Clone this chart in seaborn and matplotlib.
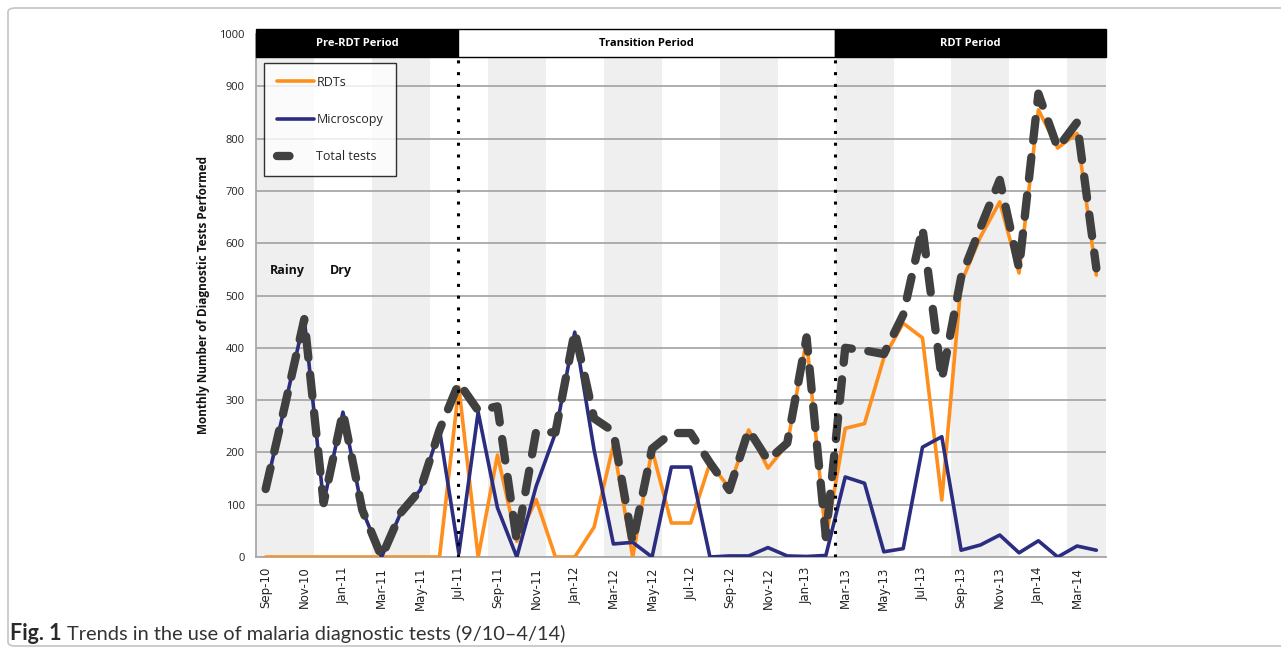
import numpy as np
import pandas as pd
import matplotlib
matplotlib.use("Agg")
import matplotlib.pyplot as plt
import seaborn as sns
from matplotlib.lines import Line2D
from matplotlib.patches import Rectangle, FancyBboxPatch

# tick labels (every second month, Sep-10 .. Mar-14)
tick_labels = ["Sep-10", "Nov-10", "Jan-11", "Mar-11", "May-11", "Jul-11",
               "Sep-11", "Nov-11", "Jan-12", "Mar-12", "May-12", "Jul-12",
               "Sep-12", "Nov-12", "Jan-13", "Mar-13", "May-13", "Jul-13",
               "Sep-13", "Nov-13", "Jan-14", "Mar-14"]

# monthly values Sep-10 .. Apr-14 (44 months)
rdts = [0, 0, 0, 0, 0, 0, 0, 0, 0, 0,
        325, 0, 195, 30, 110, 0, 0, 57, 214, 0,
        205, 65, 65, 180, 132, 243, 170, 215, 415, 35,
        246, 255, 381, 447, 419, 109, 524, 612, 679, 543,
        855, 782, 810, 539]
microscopy = [130, 290, 455, 103, 277, 90, 0, 85, 128, 243,
              7, 277, 94, 0, 135, 237, 430, 205, 25, 28,
              0, 172, 172, 0, 2, 2, 18, 2, 1, 3,
              153, 141, 10, 16, 210, 230, 13, 23, 42, 8,
              31, 0, 21, 13]
total_tests = [130, 290, 455, 103, 277, 90, 0, 85, 128, 243,
               333, 280, 288, 30, 240, 238, 432, 265, 240, 28,
               207, 237, 237, 180, 128, 243, 185, 218, 420, 38,
               400, 395, 388, 463, 629, 340, 535, 630, 721, 552,
               886, 782, 831, 552]

periods = ["Pre-RDT Period", "Transition Period", "RDT Period"]
period_edges = [-0.5, 9.95, 29.45, 43.5]

ORANGE = "#ff8f1c"
BLUE = "#2b2d80"
DARK = "#404040"
GRID = "#a8a8a8"

sns.set_theme(style="white")
plt.rcParams["font.family"] = ["Open Sans", "DejaVu Sans"]

W, H = 1281, 650
fig = plt.figure(figsize=(W / 100, H / 100), dpi=100)
ax = fig.add_axes([256 / W, 1 - 557 / H, 850 / W, 523 / H])

n = len(rdts)
idx = np.arange(n)
df = pd.DataFrame({"month": idx, "RDTs": rdts, "Microscopy": microscopy,
                   "Total tests": total_tests})

# seasonal shading: 3 months shaded, 3 months clear
for start in np.arange(-0.5, n, 6):
    ax.axvspan(start, min(start + 3, n - 0.5), ymin=0, ymax=1,
               color="#efefef", lw=0, zorder=0)

sns.lineplot(data=df, x="month", y="RDTs", ax=ax, color=ORANGE, lw=2.6, zorder=3)
sns.lineplot(data=df, x="month", y="Microscopy", ax=ax, color=BLUE, lw=2.6, zorder=3)
sns.lineplot(data=df, x="month", y="Total tests", ax=ax, color=DARK, lw=6.0,
             linestyle=(0, (2.6, 2.0)), dash_capstyle="round", zorder=4)

ax.set_xlim(-0.5, n - 0.5)
ax.set_ylim(0, 1000)
ax.set_yticks(range(0, 1001, 100))
ax.tick_params(axis="y", labelsize=8, length=5, color=GRID, direction="out",
               pad=3, labelcolor="#222222")
ax.set_xticks(range(0, n, 2))
ax.set_xticklabels(tick_labels, rotation=90, fontsize=8.5,
                   family=["DejaVu Sans"], color="#222222")
ax.tick_params(axis="x", which="major", length=0, pad=7)
ax.set_xticks(np.arange(-0.5, n, 2), minor=True)
ax.tick_params(axis="x", which="minor", length=5, color=GRID, direction="out", width=1.2)
ax.tick_params(axis="y", width=1.2)

ax.yaxis.grid(True, color=GRID, lw=1.3)
ax.set_axisbelow(True)
for side in ["top", "right"]:
    ax.spines[side].set_visible(False)
for side in ["left", "bottom"]:
    ax.spines[side].set_color(GRID)
    ax.spines[side].set_linewidth(1.3)

ax.set_xlabel("")
ax.set_ylabel("Monthly Number of Diagnostic Tests Performed", fontsize=8.5,
              weight="bold", color="#111111")
ax.yaxis.set_label_coords((210 - 256) / 850, 0.5)

# period header boxes
for i, name in enumerate(periods):
    x0, x1 = period_edges[i], period_edges[i + 1]
    dark = i != 1
    ax.add_patch(Rectangle((x0, 956), x1 - x0, 53, facecolor="black" if dark else "white",
                           edgecolor="black", lw=1, clip_on=False, zorder=6))
    ax.text((x0 + x1) / 2, 982, name, ha="center", va="center", fontsize=8,
            weight="bold", color="white" if dark else "black", zorder=7, clip_on=False)

ax.vlines(period_edges[1:3], 0, 956, colors="black", linestyles=(0, (1, 2.85)),
          lw=2.2, zorder=8)

ax.text(1.1, 547, "Rainy", ha="center", va="center", fontsize=9, weight="bold", color="#111111")
ax.text(3.9, 547, "Dry", ha="center", va="center", fontsize=9, weight="bold", color="#111111")

handles = [Line2D([], [], color=ORANGE, lw=2.6),
           Line2D([], [], color=BLUE, lw=2.6),
           Line2D([], [], color=DARK, lw=6.0, linestyle=(0, (1.5, 3.5)),
                  dash_capstyle="round")]
leg = ax.legend(handles, ["RDTs", "Microscopy", "Total tests"], loc="upper left",
                bbox_to_anchor=((264 - 256) / 850, (557 - 63) / 523), borderaxespad=0,
                fontsize=9, frameon=True, fancybox=False, handlelength=3.0,
                handletextpad=0.2, labelspacing=1.95, borderpad=1.0)
leg.get_frame().set_edgecolor("black")
leg.get_frame().set_linewidth(1.0)
leg.set_zorder(9)

# outer frame and caption
fig.patches.append(FancyBboxPatch((8 / W, 4 / H), 1.05, (642 - 4) / H,
                                  boxstyle="round,pad=0,rounding_size=0.006",
                                  transform=fig.transFigure, ec="#c4c4c4",
                                  fc="none", lw=1.2))
t1 = fig.text(10 / W, 1 - 640 / H, "Fig. 1", fontsize=15.5, weight="bold",
              family=["Lato", "DejaVu Sans"], color="#2a2a2a", va="baseline")
fig.canvas.draw()
bb = t1.get_window_extent()
fig.text((bb.x1 + 5) / W, 1 - 640 / H, "Trends in the use of malaria diagnostic tests (9/10\u20134/14)",
         fontsize=14.4, family=["Lato", "DejaVu Sans"], color="#333333", va="baseline")

fig.savefig("out.png", dpi=100)
